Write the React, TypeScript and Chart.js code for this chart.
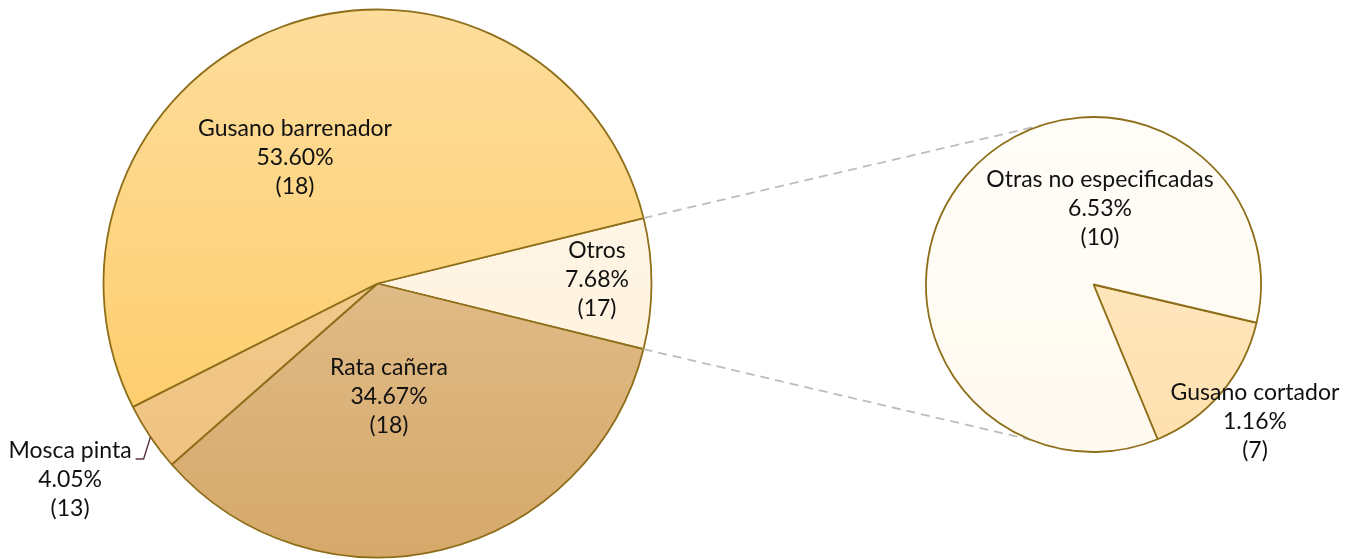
import React, { useEffect, useRef } from "react";
import { Chart, registerables } from "chart.js";

Chart.register(...registerables);

// ---- data ----
const mainLabels = ["Otros", "Rata cañera", "Mosca pinta", "Gusano barrenador"];
const mainPercents = [7.68, 34.67, 4.05, 53.6];
const mainCounts = [17, 18, 13, 18];

const subLabels = ["Gusano cortador", "Otras no especificadas"];
const subPercents = [1.16, 6.53];
const subCounts = [7, 10];

// ---- layout / style ----
const W = 1353;
const H = 559;
const BW = 1.8;
const MAIN = { cx: 377.5, cy: 283.5, r: 274 };
const SUB = { cx: 1093.5, cy: 284.5, r: 167.5 };
const SUB_BOX = { left: 870, top: 90, width: 483, height: 420 };
const FONT_SIZE = 23;
const FONT_FAMILY = "Lato, 'Noto Sans', sans-serif";
const LINE_H = 29;
const BORDER = "#8E6E18";

const mainColors = [
  ["#FFF8EC", "#FFF0D8"],
  ["#E8CDA2", "#D6A86A"],
  ["#F6D29A", "#EEBF7C"],
  ["#FDDD9C", "#FFC95E"],
];
const subColors = [
  ["#FFEBC8", "#FFE0AE"],
  ["#FFFDF8", "#FFFAF0"],
];
const mainLabelPos = [
  [0.801, -0.013],
  [0.042, 0.414],
  [-1.122, 0.717],
  [-0.301, -0.458],
];
const subLabelPos = [
  [0.964, 0.821],
  [0.039, -0.451],
];

function grad(colors: string[][]) {
  return (ctx: any) => {
    const chart = ctx.chart;
    const a = chart.chartArea;
    const c = colors[ctx.dataIndex] || colors[0];
    if (!a) return c[0];
    const g = chart.ctx.createLinearGradient(0, a.top, 0, a.bottom);
    g.addColorStop(0, c[0]);
    g.addColorStop(1, c[1]);
    return g;
  };
}

function labelPlugin(names: string[], pcts: number[], counts: number[], pos: number[][], leaderIndex: number) {
  return {
    id: "sliceLabels",
    afterDatasetsDraw(chart: any) {
      const meta = chart.getDatasetMeta(0);
      const ctx = chart.ctx;
      ctx.save();
      ctx.font = `${FONT_SIZE}px ${FONT_FAMILY}`;
      ctx.fillStyle = "#111111";
      ctx.textAlign = "center";
      ctx.textBaseline = "middle";
      meta.data.forEach((arc: any, i: number) => {
        const p = arc.getProps(["x", "y", "outerRadius", "startAngle", "endAngle"], true);
        const lx = p.x + pos[i][0] * p.outerRadius;
        const ly = p.y + pos[i][1] * p.outerRadius;
        const lines = [names[i], pcts[i].toFixed(2) + "%", "(" + counts[i] + ")"];
        lines.forEach((t, k) => ctx.fillText(t, lx, ly + (k - 1) * LINE_H));
        if (i === leaderIndex) {
          const tw = ctx.measureText(lines[0]).width;
          const mid = (p.startAngle + p.endAngle) / 2;
          const ex = p.x + p.outerRadius * Math.cos(mid);
          const ey = p.y + p.outerRadius * Math.sin(mid);
          const sx = lx + tw / 2 + 4;
          const sy = ly - LINE_H + 8;
          ctx.strokeStyle = "#5A3440";
          ctx.lineWidth = 1.4;
          ctx.beginPath();
          ctx.moveTo(sx, sy);
          ctx.lineTo(sx + 8, sy);
          ctx.lineTo(ex, ey);
          ctx.stroke();
        }
      });
      ctx.restore();
    },
  };
}

const connectorPlugin = {
  id: "connectors",
  afterDatasetsDraw(chart: any) {
    const arc = chart.getDatasetMeta(0).data[0];
    if (!arc) return;
    const p = arc.getProps(["x", "y", "outerRadius", "startAngle", "endAngle"], true);
    const ctx = chart.ctx;
    const targets = [(-108 * Math.PI) / 180, (112 * Math.PI) / 180];
    const starts = [p.startAngle, p.endAngle];
    ctx.save();
    ctx.strokeStyle = "#BDBDBD";
    ctx.lineWidth = 1.8;
    ctx.setLineDash([9, 6]);
    for (let k = 0; k < 2; k++) {
      ctx.beginPath();
      ctx.moveTo(p.x + p.outerRadius * Math.cos(starts[k]), p.y + p.outerRadius * Math.sin(starts[k]));
      ctx.lineTo(SUB.cx + SUB.r * Math.cos(targets[k]), SUB.cy + SUB.r * Math.sin(targets[k]));
      ctx.stroke();
    }
    ctx.restore();
  },
};

function padFor(cx: number, cy: number, r: number, w: number, h: number) {
  const size = 2 * r + BW;
  const left = cx - size / 2;
  const top = cy - size / 2;
  return { left, top, right: w - left - size, bottom: h - top - size };
}

export default function App() {
  const mainRef = useRef<HTMLCanvasElement>(null);
  const subRef = useRef<HTMLCanvasElement>(null);

  useEffect(() => {
    document.body.style.margin = "0";
    const common = {
      responsive: false,
      animation: false as const,
      plugins: { legend: { display: false }, tooltip: { enabled: false } },
      events: [] as any[],
    };
    const main = new Chart(mainRef.current!, {
      type: "pie",
      data: {
        labels: mainLabels,
        datasets: [
          {
            data: mainPercents,
            backgroundColor: grad(mainColors),
            borderColor: BORDER,
            borderWidth: BW,
          },
        ],
      },
      options: {
        ...common,
        rotation: 76.2,
        layout: { padding: padFor(MAIN.cx, MAIN.cy, MAIN.r, W, H) },
      },
      plugins: [connectorPlugin, labelPlugin(mainLabels, mainPercents, mainCounts, mainLabelPos, 2)],
    } as any);
    const sub = new Chart(subRef.current!, {
      type: "pie",
      data: {
        labels: subLabels,
        datasets: [
          {
            data: subPercents,
            backgroundColor: grad(subColors),
            borderColor: BORDER,
            borderWidth: BW,
          },
        ],
      },
      options: {
        ...common,
        rotation: 103.2,
        layout: {
          padding: padFor(SUB.cx - SUB_BOX.left, SUB.cy - SUB_BOX.top, SUB.r, SUB_BOX.width, SUB_BOX.height),
        },
      },
      plugins: [labelPlugin(subLabels, subPercents, subCounts, subLabelPos, -1)],
    } as any);
    const f: any = (document as any).fonts;
    if (f && f.load) {
      f.load(`${FONT_SIZE}px Lato`).then(() => {
        main.draw();
        sub.draw();
      });
    }
    return () => {
      main.destroy();
      sub.destroy();
    };
  }, []);

  return (
    <div style={{ position: "fixed", left: 0, top: 0, width: W, height: H, background: "#fff" }}>
      <canvas ref={mainRef} width={W} height={H} style={{ position: "absolute", left: 0, top: 0, width: W, height: H }} />
      <canvas
        ref={subRef}
        width={SUB_BOX.width}
        height={SUB_BOX.height}
        style={{
          position: "absolute",
          left: SUB_BOX.left,
          top: SUB_BOX.top,
          width: SUB_BOX.width,
          height: SUB_BOX.height,
        }}
      />
    </div>
  );
}
